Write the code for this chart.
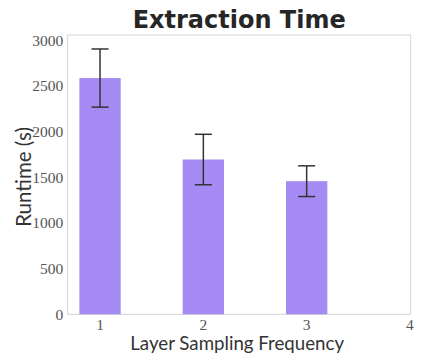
<!DOCTYPE html>
<html>
<head>
<meta charset="utf-8">
<script src="https://cdn.jsdelivr.net/npm/d3@7"></script>
<style>
  body { margin: 0; background: #fff; }
</style>
</head>
<body>
<div id="chart"></div>
<script>
const freqs = [1, 2, 3];
const runtimes = [2584, 1693, 1456];
const errors = [318, 276, 168];
const xTicks = [1, 2, 3, 4];
const yTicks = [0, 500, 1000, 1500, 2000, 2500, 3000];

const width = 423;
const height = 363;
const margin = { top: 35, right: 12.3, bottom: 48.7, left: 67.7 };
const barColor = "#a48af2";
const errColor = "#333";

const svg = d3
  .select("#chart")
  .append("svg")
  .attr("width", width)
  .attr("height", height);

const x = d3
  .scaleLinear()
  .domain([0.687, 4.007])
  .range([margin.left, width - margin.right]);

const y = d3
  .scaleLinear()
  .domain([0, 3055])
  .range([height - margin.bottom, margin.top]);

const barW = x(1.2) - x(0.8);

// frame
svg
  .append("rect")
  .attr("x", margin.left)
  .attr("y", margin.top)
  .attr("width", width - margin.left - margin.right)
  .attr("height", height - margin.top - margin.bottom)
  .attr("fill", "none")
  .attr("stroke", "#d4d4d4")
  .attr("stroke-width", 1);

// bars
svg
  .append("g")
  .selectAll("rect")
  .data(freqs)
  .join("rect")
  .attr("x", (d) => x(d) - barW / 2)
  .attr("y", (d, i) => y(runtimes[i]))
  .attr("width", barW)
  .attr("height", (d, i) => y(0) - y(runtimes[i]))
  .attr("fill", barColor);

// error bars
const err = svg
  .append("g")
  .attr("stroke", errColor)
  .attr("stroke-width", 1.5)
  .selectAll("g")
  .data(freqs)
  .join("g");

err
  .append("line")
  .attr("x1", (d) => x(d))
  .attr("x2", (d) => x(d))
  .attr("y1", (d, i) => y(runtimes[i] + errors[i]))
  .attr("y2", (d, i) => y(runtimes[i] - errors[i]));

[1, -1].forEach((s) => {
  err
    .append("line")
    .attr("x1", (d) => x(d) - 8.5)
    .attr("x2", (d) => x(d) + 8.5)
    .attr("y1", (d, i) => y(runtimes[i] + s * errors[i]))
    .attr("y2", (d, i) => y(runtimes[i] + s * errors[i]));
});

// tick labels
const tickFont = "'Liberation Serif', serif";
svg
  .append("g")
  .selectAll("text")
  .data(xTicks)
  .join("text")
  .attr("x", (d) => x(d))
  .attr("y", y(0) + 15.5)
  .attr("text-anchor", "middle")
  .attr("font-family", tickFont)
  .attr("font-size", 15.5)
  .attr("fill", "#555")
  .text((d) => d);

svg
  .append("g")
  .selectAll("text")
  .data(yTicks)
  .join("text")
  .attr("x", margin.left - 4.4)
  .attr("y", (d) => y(d) + 5.5)
  .attr("text-anchor", "end")
  .attr("font-family", tickFont)
  .attr("font-size", 15.5)
  .attr("fill", "#555")
  .text((d) => d);

// titles
svg
  .append("text")
  .attr("x", (margin.left + width - margin.right) / 2)
  .attr("y", 28)
  .attr("text-anchor", "middle")
  .attr("font-family", "'DejaVu Sans', sans-serif")
  .attr("font-weight", "bold")
  .attr("font-size", 24)
  .attr("fill", "#262626")
  .text("Extraction Time");

svg
  .append("text")
  .attr("x", (margin.left + width - margin.right) / 2 - 2)
  .attr("y", 350)
  .attr("text-anchor", "middle")
  .attr("font-family", "Lato, sans-serif")
  .attr("font-size", 18.7)
  .attr("fill", "#333")
  .text("Layer Sampling Frequency");

svg
  .append("text")
  .attr("transform", "translate(30.5,177) rotate(-90)")
  .attr("text-anchor", "middle")
  .attr("font-family", "Lato, sans-serif")
  .attr("font-size", 20.5)
  .attr("fill", "#333")
  .text("Runtime (s)");
</script>
</body>
</html>
